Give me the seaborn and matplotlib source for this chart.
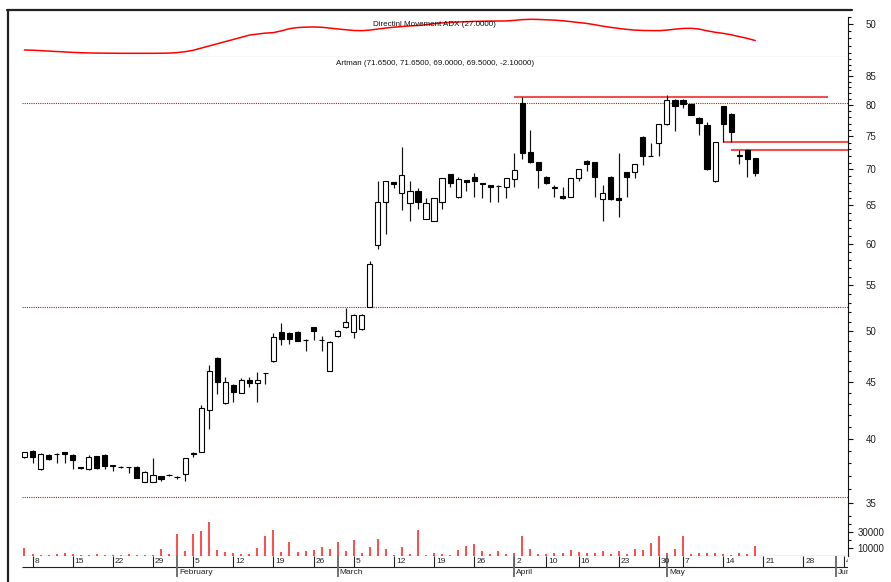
import numpy as np
import pandas as pd
import matplotlib
matplotlib.use("Agg")
import matplotlib.pyplot as plt
import matplotlib.ticker as mticker
from matplotlib.lines import Line2D
from matplotlib.transforms import offset_copy
import seaborn as sns

sns.set_theme(style="white")
plt.rcParams['font.family'] = ['Liberation Sans', 'DejaVu Sans']

# ---------------- data ----------------
opens = [38.50, 39.00, 37.53, 38.70, 38.75, 38.90, 38.70, 37.70, 37.55, 38.55,
         38.70, 37.85, 37.75, 37.72, 37.75, 36.58, 36.58, 37.00, 37.10, 36.95,
         37.20, 38.78, 38.95, 42.46, 47.33, 43.05, 44.73, 44.00, 45.19, 44.90,
         45.85, 47.01, 49.96, 49.86, 49.96, 49.15, 50.48, 49.13, 46.07, 49.52,
         50.48, 49.96, 50.21, 52.62, 59.83, 65.42, 68.20, 66.72, 65.33, 66.98,
         63.20, 62.90, 65.42, 69.30, 66.06, 68.48, 68.95, 68.00, 67.78, 67.68,
         67.43, 68.58, 80.30, 72.63, 71.02, 68.95, 67.45, 66.20, 66.15, 68.72,
         71.29, 71.02, 65.88, 68.95, 65.97, 69.60, 69.58, 74.93, 72.00, 73.90,
         76.88, 80.87, 80.87, 80.19, 77.97, 76.80, 68.30, 79.90, 78.60, 72.05,
         72.89, 71.65]
highs = [38.95, 39.05, 38.80, 38.75, 38.80, 38.95, 38.75, 37.75, 38.70, 38.60,
         38.75, 37.90, 37.80, 37.75, 37.80, 37.40, 38.40, 37.05, 37.15, 37.00,
         38.45, 38.95, 42.90, 46.63, 47.40, 45.47, 44.80, 45.40, 45.47, 45.97,
         45.90, 49.80, 50.90, 49.90, 50.00, 49.20, 50.50, 49.52, 49.00, 50.10,
         52.50, 51.80, 51.80, 57.92, 68.34, 68.35, 68.25, 73.38, 68.30, 67.40,
         65.95, 66.00, 68.80, 69.35, 68.87, 68.50, 69.45, 68.05, 67.80, 67.72,
         68.78, 72.40, 81.30, 75.98, 71.05, 69.00, 67.75, 67.43, 68.80, 70.10,
         71.35, 71.05, 67.75, 69.00, 72.40, 69.65, 70.85, 75.00, 73.90, 76.95,
         81.70, 81.00, 81.00, 80.25, 78.00, 77.30, 74.10, 79.95, 78.65, 72.89,
         73.10, 71.65]
lows = [38.45, 38.00, 37.50, 38.30, 38.00, 38.00, 37.55, 37.60, 37.50, 37.60,
        37.60, 37.40, 37.65, 37.25, 36.85, 36.55, 36.55, 36.65, 37.00, 36.80,
        36.65, 38.50, 38.90, 40.79, 43.90, 43.00, 43.20, 43.95, 44.55, 43.20,
        44.80, 46.95, 48.60, 48.67, 49.00, 48.03, 49.11, 48.03, 46.00, 49.45,
        50.40, 49.28, 50.15, 52.55, 59.29, 61.20, 67.40, 64.40, 62.90, 64.50,
        63.15, 62.85, 64.43, 67.50, 66.00, 66.95, 66.15, 65.92, 65.47, 65.47,
        65.92, 67.52, 71.50, 70.95, 67.40, 67.90, 66.06, 65.88, 66.10, 68.38,
        69.78, 66.06, 62.93, 65.70, 63.35, 66.06, 68.72, 70.62, 71.95, 71.97,
        76.80, 75.87, 79.60, 78.35, 75.20, 69.95, 68.25, 74.15, 74.15, 70.76,
        68.85, 69.00]
closes = [38.90, 38.50, 38.75, 38.33, 38.72, 38.72, 38.30, 37.66, 38.50, 37.62,
          37.80, 37.82, 37.72, 37.70, 36.90, 37.35, 37.10, 36.80, 37.06, 36.92,
          38.40, 38.82, 42.60, 46.04, 45.03, 44.98, 44.12, 45.19, 44.95, 45.19,
          45.82, 49.38, 49.21, 49.17, 49.03, 49.12, 50.04, 49.10, 48.94, 50.04,
          50.94, 51.72, 51.72, 57.52, 65.42, 68.30, 67.97, 69.20, 66.98, 65.47,
          65.35, 65.95, 68.72, 68.10, 68.58, 68.15, 68.38, 67.85, 67.47, 67.60,
          68.72, 69.92, 72.48, 71.02, 69.92, 68.10, 67.40, 65.93, 68.72, 70.02,
          70.80, 68.95, 66.72, 65.78, 65.65, 68.88, 70.80, 71.97, 72.03, 76.88,
          80.87, 79.90, 80.19, 78.40, 77.08, 70.02, 74.05, 76.93, 75.70, 72.10,
          71.60, 69.50]
volumes = [9600, 2500, 1200, 1200, 2500, 3400, 2500, 1200, 1700, 2500,
           1200, 1200, 1700, 2500, 1200, 1200, 1700, 8700, 2500, 27500,
           6200, 27500, 31200, 42100, 7500, 5000, 4100, 2500, 2500, 10000,
           25000, 32500, 5000, 17500, 5000, 5900, 7500, 11600, 9100, 17500,
           6200, 20000, 4100, 11600, 21600, 9100, 1600, 10900, 2500, 32900,
           1200, 3400, 2500, 1200, 7500, 12500, 15000, 6200, 2500, 6200,
           2500, 3700, 25000, 8700, 2500, 2500, 3400, 3400, 7500, 5400,
           3700, 3700, 6200, 2500, 5900, 2500, 8700, 7500, 16200, 25000,
           3700, 8700, 25000, 2500, 3400, 4100, 3400, 2500, 1600, 4100,
           2500, 12500]
adx = [13.9, 13.6, 13.0, 12.4, 11.8, 11.2, 10.6, 10.1, 9.8, 9.6,
       9.5, 9.4, 9.3, 9.3, 9.3, 9.3, 9.3, 9.4, 9.6, 10.3,
       11.5, 13.5, 16.5, 19.5, 22.5, 25.5, 28.5, 31.5, 34.5, 36.0,
       37.3, 38.0, 40.5, 43.5, 45.0, 45.6, 45.8, 45.5, 44.3, 43.1,
       42.0, 41.0, 40.7, 41.5, 43.0, 44.4, 45.5, 46.5, 47.3, 47.9,
       49.0, 50.3, 51.5, 52.2, 52.8, 53.2, 53.6, 53.8, 54.0, 54.1,
       54.2, 55.0, 56.0, 56.5, 56.3, 55.8, 55.3, 54.5, 53.3, 52.0,
       50.8, 49.0, 47.0, 45.3, 43.8, 42.5, 41.5, 41.0, 40.8, 40.7,
       41.5, 42.8, 43.8, 44.0, 43.0, 40.5, 38.5, 37.0, 35.0, 32.5,
       30.0, 27.0]

day_tick_pos = [1, 6, 11, 16, 21, 26, 31, 36, 41, 46, 51, 56, 61, 65, 69, 74,
                79, 82, 87, 92, 97, 102]
day_tick_labels = ['8', '15', '22', '29', '5', '12', '19', '26', '5', '12', '19',
                   '26', '2', '10', '16', '23', '30', '7', '14', '21', '28', '4']
month_pos = [19, 39, 61, 80, 101]
month_labels = ['February', 'March', 'April', 'May', 'Jun']

dotted_levels = [80.4, 52.6, 35.44]
trend_levels = [81.3, 74.1, 72.9]
trend_start = [61, 87, 88]
trend_end = [100, 102.6, 102.6]

price_ticks = [35, 40, 45, 50, 55, 60, 65, 70, 75, 80, 85]
adx_title = "Directinl Movement ADX (27.0000)"
price_title = "Artman (71.6500, 71.6500, 69.0000, 69.5000, -2.10000)"

df = pd.DataFrame({"idx": np.arange(len(opens)), "open": opens, "high": highs,
                   "low": lows, "close": closes, "volume": volumes, "adx": adx})

# ---------------- layout ----------------
W, H = 891, 582
fig = plt.figure(figsize=(W / 100, H / 100), dpi=100)
fig.patch.set_facecolor("white")


def fx(px):
    return px / W


def fy(py):
    return 1 - py / H


L, R = 21.5, 848
XLIM = (-0.37, 102.55)
axa = fig.add_axes([fx(L), fy(57), fx(R) - fx(L), fy(16.7) - fy(57)])
axp = fig.add_axes([fx(L), fy(512), fx(R) - fx(L), fy(57) - fy(512)])
axv = fig.add_axes([fx(L), fy(556), fx(R) - fx(L), fy(512) - fy(556)])
axd = fig.add_axes([fx(L), 0, fx(R) - fx(L), fy(556)])

FS_T = 5.8
FS_AX = 7.0
FS_D = 6.0
DOT = 100 / 72  # px per point

for ax in (axa, axp, axv, axd):
    ax.set_xlim(*XLIM)
    ax.set_facecolor("white")
    ax.set_xticks([])
    for s in ax.spines.values():
        s.set_visible(False)

# ---------------- ADX panel ----------------
sns.lineplot(data=df, x="idx", y="adx", ax=axa, color="#ff0000", lw=1.1,
             estimator=None, legend=False)
axa.set_xlim(*XLIM)
axa.set_ylim(4.17, 60.1)
axa.set_xlabel("")
axa.set_ylabel("")
axa.spines['right'].set_visible(True)
axa.spines['right'].set_color("#111111")
axa.spines['right'].set_linewidth(0.8)
axa.spines['bottom'].set_visible(True)
axa.spines['bottom'].set_color("#8c8c8c")
axa.spines['bottom'].set_linewidth(0.8)
axa.yaxis.tick_right()
axa.yaxis.set_major_locator(mticker.FixedLocator([50]))
axa.yaxis.set_minor_locator(mticker.FixedLocator([10, 20, 30, 40, 60]))
axa.yaxis.set_major_formatter(mticker.FormatStrFormatter("%d"))
axa.yaxis.set_minor_formatter(mticker.NullFormatter())

# ---------------- price panel ----------------
axp.set_yscale("log")
axp.set_ylim(34.35, 88.43)
for lv in dotted_levels:
    axp.axhline(lv, color="#ff0000", lw=0.8, ls=(0, (1, 1)), zorder=1)
for lv, s0, s1 in zip(trend_levels, trend_start, trend_end):
    axp.hlines(lv, s0, s1, color="#f05050", lw=1.5, zorder=1)

x = df["idx"].values
o = df["open"].values
c = df["close"].values
up = c >= o
axp.vlines(x, df["low"], df["high"], color="#111111", lw=0.85, zorder=2)
bottoms = np.minimum(o, c)
heights = np.maximum(np.abs(c - o), 0.02)
axp.bar(x, heights, bottom=bottoms, width=0.64,
        color=np.where(up, "white", "black"), edgecolor="black",
        linewidth=0.8, zorder=3)

axp.spines['right'].set_visible(True)
axp.spines['right'].set_color("#111111")
axp.spines['right'].set_linewidth(0.8)
axp.yaxis.tick_right()
axp.yaxis.set_major_locator(mticker.FixedLocator(price_ticks))
axp.yaxis.set_minor_locator(mticker.FixedLocator(
    [v for v in range(34, 89) if v not in price_ticks]))
axp.yaxis.set_major_formatter(mticker.FormatStrFormatter("%d"))
axp.yaxis.set_minor_formatter(mticker.NullFormatter())

# ---------------- volume panel ----------------
axv.vlines(x, 0, df["volume"], color="#ff1a1a", lw=1.1)
axv.set_ylim(0, 55000)
axv.spines['right'].set_visible(True)
axv.spines['right'].set_color("#111111")
axv.spines['right'].set_linewidth(0.8)
axv.spines['bottom'].set_visible(True)
axv.spines['bottom'].set_color("#222222")
axv.spines['bottom'].set_linewidth(0.8)
axv.yaxis.tick_right()
axv.yaxis.set_major_locator(mticker.FixedLocator([10000, 30000]))
axv.yaxis.set_minor_locator(mticker.FixedLocator([20000, 40000, 50000]))
axv.yaxis.set_major_formatter(mticker.FormatStrFormatter("%d"))
axv.yaxis.set_minor_formatter(mticker.NullFormatter())

for ax in (axa, axp, axv):
    ax.tick_params(axis='y', which='major', direction='out', length=5 / DOT,
                   width=0.8, color="#111111", labelsize=FS_AX,
                   labelcolor="#222222", pad=18 / DOT, right=True, left=False)
    ax.tick_params(axis='y', which='minor', direction='out', length=3 / DOT,
                   width=0.8, color="#111111", right=True, left=False)
    for lab in ax.get_yticklabels():
        lab.set_horizontalalignment('center')

# ---------------- date axis ----------------
axd.set_ylim(0, 26)
axd.set_yticks([])
axd.tick_params(left=False, right=False, labelleft=False, labelright=False)
axd.hlines(15.3, XLIM[0], XLIM[1], color="#222222", lw=0.8)
axd.vlines(day_tick_pos, 15.3, 26, color="#222222", lw=0.8)
axd.vlines(month_pos, 5.3, 26, color="#666666", lw=1.3)
tr = offset_copy(axd.transData, fig=fig, x=2, y=0, units='dots')
for p, lab in zip(day_tick_pos, day_tick_labels):
    axd.text(p, 20.6, lab, transform=tr, ha='left', va='center',
             fontsize=FS_D, color="#222222", clip_on=True)
for p, lab in zip(month_pos, month_labels):
    axd.text(p, 9.8, lab, transform=tr, ha='left', va='center',
             fontsize=FS_D, color="#222222", clip_on=True)

# ---------------- titles & frame ----------------
fig.text(fx(434.5), fy(25), adx_title, ha='center', va='center',
         fontsize=FS_T, color="#111111")
fig.text(fx(435), fy(63.5), price_title, ha='center', va='center',
         fontsize=FS_T, color="#111111")
fig.add_artist(Line2D([fx(7.5), fx(7.5)], [fy(9.5), 0], transform=fig.transFigure,
                      color="#222222", lw=1.6))
fig.add_artist(Line2D([fx(7), fx(852)], [fy(9.5), fy(9.5)],
                      transform=fig.transFigure, color="#222222", lw=1.6))

fig.savefig("out.png", dpi=100, facecolor="white")
